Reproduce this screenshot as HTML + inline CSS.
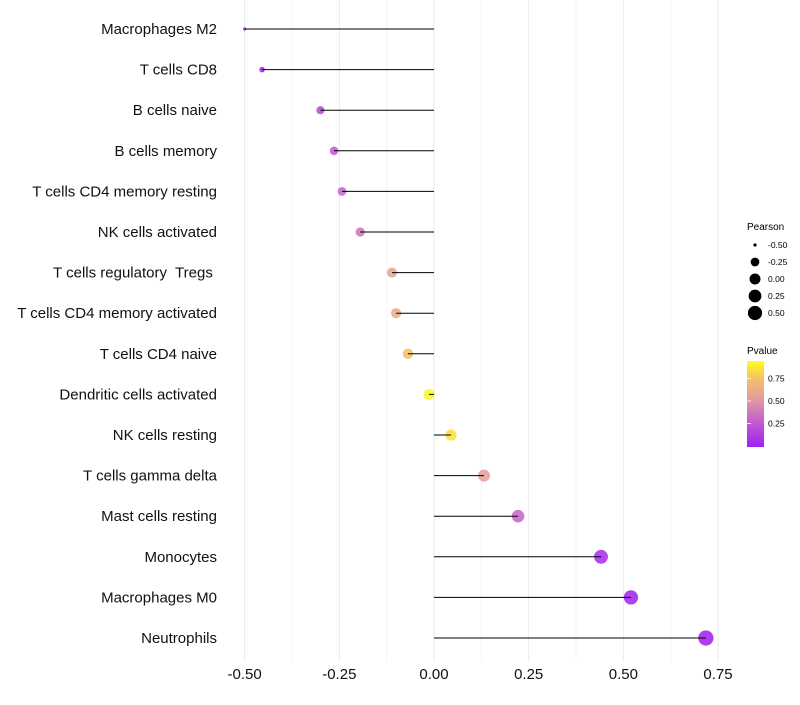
<!DOCTYPE html>
<html><head><meta charset="utf-8"><style>
body{margin:0;background:#fff}
svg text{font-family:"Liberation Sans",sans-serif}
</style></head><body>
<svg id="chart" width="800" height="700" xmlns="http://www.w3.org/2000/svg">
<g id="grid"></g>
<g id="marks"></g>
<g id="ylabels"></g>
<g id="xlabels"></g>
<g id="legend">
<text x="747" y="230" font-size="10">Pearson</text>
<text x="747" y="354" font-size="10">Pvalue</text>
<defs><linearGradient id="pg" x1="0" y1="1" x2="0" y2="0">
<stop offset="0" stop-color="#a020f0"/><stop offset="0.3" stop-color="#c35fd0"/><stop offset="0.55" stop-color="#e39aa0"/><stop offset="0.8" stop-color="#f5c265"/><stop offset="1" stop-color="#ffff1a"/></linearGradient></defs>
<rect x="747" y="361" width="17" height="86" fill="url(#pg)"/>
</g>
</svg>
<script>
const categories=["Macrophages M2","T cells CD8","B cells naive","B cells memory","T cells CD4 memory resting","NK cells activated","T cells regulatory  Tregs ","T cells CD4 memory activated","T cells CD4 naive","Dendritic cells activated","NK cells resting","T cells gamma delta","Mast cells resting","Monocytes","Macrophages M0","Neutrophils"];
const pearson=[-0.50,-0.454,-0.30,-0.264,-0.243,-0.195,-0.111,-0.10,-0.069,-0.013,0.045,0.132,0.222,0.441,0.52,0.718];
const pvalue=[0.0,0.02,0.2,0.3,0.33,0.4,0.62,0.66,0.8,0.97,0.9,0.58,0.33,0.07,0.04,0.02];
const xTicks=[-0.5,-0.25,0,0.25,0.5,0.75];
const xTickLabels=["-0.50","-0.25","0.00","0.25","0.50","0.75"];
const legendSizes=[-0.5,-0.25,0,0.25,0.5];
const legendSizeLabels=["-0.50","-0.25","0.00","0.25","0.50"];
const pTicks=[0.25,0.5,0.75];
const pTickLabels=["0.25","0.50","0.75"];
const NS="http://www.w3.org/2000/svg";
const xs=v=>434+v*378.7;
const ys=i=>29+i*40.6;
const rs=v=>1.6+5.5*Math.sqrt(Math.max(0,v+0.5));
function col(p){const st=[[0,[160,32,240]],[0.3,[195,95,208]],[0.55,[227,154,160]],[0.8,[245,194,101]],[1,[255,255,26]]];
 for(let k=1;k<st.length;k++){if(p<=st[k][0]){const a=st[k-1],b=st[k],t=(p-a[0])/(b[0]-a[0]);return `rgb(${a[1].map((c,j)=>Math.round(c+(b[1][j]-c)*t)).join(',')})`;}}return 'rgb(255,255,26)';}
function mk(tag,at,par){const e=document.createElementNS(NS,tag);for(const k in at)e.setAttribute(k,at[k]);document.getElementById(par).appendChild(e);return e;}
for(let v=-0.5;v<=0.751;v+=0.125){const major=Math.abs(v*4-Math.round(v*4))<1e-6;
 const g=mk('line',{x1:xs(v),x2:xs(v),y1:0,y2:662,stroke:major?'#ebebeb':'#f4f4f4','stroke-width':1},'grid');
 }
categories.forEach((c,i)=>{
 const y=ys(i);
 const p=mk('circle',{cx:xs(pearson[i]),cy:y,r:rs(pearson[i]),fill:col(pvalue[i]),opacity:0.88},'marks');
 
 const l=mk('line',{x1:xs(0),x2:xs(pearson[i]),y1:y,y2:y,stroke:'#000','stroke-width':1},'marks');
 
 const t=mk('text',{x:217,y:y+5,'text-anchor':'end','font-size':15,fill:'#111','xml:space':'preserve',style:'white-space:pre'},'ylabels');t.textContent=c;
 
});
xTicks.forEach((v,i)=>{const t=mk('text',{x:xs(v),y:679,'text-anchor':'middle','font-size':15,fill:'#111'},'xlabels');t.textContent=xTickLabels[i];
 });
legendSizes.forEach((v,i)=>{const y=245+i*17;
 const c=mk('circle',{cx:755,cy:y,r:rs(v),fill:'#000'},'legend');
 
 const t=mk('text',{x:768,y:y+3,'font-size':8.5},'legend');t.textContent=legendSizeLabels[i];
 });
pTicks.forEach((v,i)=>{const y=446-v*90;
 const t=mk('text',{x:768,y:y+3,'font-size':8.5},'legend');t.textContent=pTickLabels[i];
 
 const tk=mk('line',{x1:747,x2:751,y1:y,y2:y,stroke:'#fff','stroke-width':0.8},'legend');
 });
</script>
</body></html>
